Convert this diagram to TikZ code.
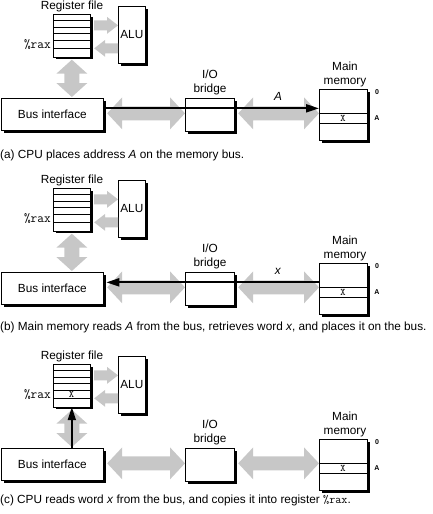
\documentclass[tikz,border=0pt]{standalone}
\usepackage{fontspec}
\setmainfont{Liberation Sans}
\usetikzlibrary{calc,shadows,arrows.meta}
\tikzset{
  fat/.style={fill=black!22},
  box/.style={draw, fill=white, line width=0.7pt, inner sep=0pt, anchor=north west,
    drop shadow={shadow xshift=2.6pt,shadow yshift=-2.6pt,opacity=1,fill=black}},
  lbl/.style={font=\fontsize{11.8}{14}\selectfont, inner sep=0pt, align=center},
  tiny/.style={font=\fontsize{7}{7}\selectfont\bfseries, inner sep=0pt},
  cell/.style={font=\fontsize{10}{10}\selectfont\ttfamily, inner sep=0pt},
  reglbl/.style={font=\fontsize{13}{13}\selectfont\ttfamily, inner sep=0pt, anchor=east},
  busline/.style={line width=2pt, -{Triangle[length=13pt,width=8pt]}},
  thinln/.style={line width=0.7pt},
  caption/.style={font=\fontsize{11.8}{14}\selectfont, inner sep=0pt, anchor=west}
}
% horizontal double fat arrow, tips at x of #1 and #2, at y of #1
\newcommand\dblH[2]{\fill[fat] let \p1=(#1), \p2=(#2) in
  (\x1,\y1) -- (\x1+15pt,\y1+16pt) -- (\x1+15pt,\y1+7pt) -- (\x2-15pt,\y1+7pt) -- (\x2-15pt,\y1+16pt)
  -- (\x2,\y1) -- (\x2-15pt,\y1-16pt) -- (\x2-15pt,\y1-7pt) -- (\x1+15pt,\y1-7pt) -- (\x1+15pt,\y1-16pt) -- cycle;}
% vertical double fat arrow, tips at y of #1 (top) and #2 (bottom), at x of #1
\newcommand\dblV[2]{\fill[fat] let \p1=(#1), \p2=(#2) in
  (\x1,\y1) -- (\x1+15.5pt,\y1-14pt) -- (\x1+7.5pt,\y1-14pt) -- (\x1+7.5pt,\y2+14pt) -- (\x1+15.5pt,\y2+14pt)
  -- (\x1,\y2) -- (\x1-15.5pt,\y2+14pt) -- (\x1-7.5pt,\y2+14pt) -- (\x1-7.5pt,\y1-14pt) -- (\x1-15.5pt,\y1-14pt) -- cycle;}
% single fat arrow pointing right: tail #1, tip x of #2
\newcommand\sglR[2]{\fill[fat] let \p1=(#1), \p2=(#2) in
  (\x1,\y1+5pt) -- (\x2-11pt,\y1+5pt) -- (\x2-11pt,\y1+8.5pt) -- (\x2,\y1)
  -- (\x2-11pt,\y1-8.5pt) -- (\x2-11pt,\y1-5pt) -- (\x1,\y1-5pt) -- cycle;}
% single fat arrow pointing left: tail #1, tip x of #2
\newcommand\sglL[2]{\fill[fat] let \p1=(#1), \p2=(#2) in
  (\x1,\y1+5pt) -- (\x2+11pt,\y1+5pt) -- (\x2+11pt,\y1+8.5pt) -- (\x2,\y1)
  -- (\x2+11pt,\y1-8.5pt) -- (\x2+11pt,\y1-5pt) -- (\x1,\y1-5pt) -- cycle;}
\newcommand\panel[2]{%
\begin{scope}[yshift=#1]
  \node[lbl] (rflbl#2) at (72,6) {Register file};
  \node[box, minimum width=37pt, minimum height=42.5pt] (rf#2) at (53,14) {};
  \draw[thinln] (53,20.5) -- (90,20.5);
  \draw[thinln] (53,27) -- (90,27);
  \draw[thinln] (53,33.5) -- (90,33.5);
  \draw[thinln] (53,40) -- (90,40);
  \draw[thinln] (53,48.5) -- (90,48.5);
  \node[reglbl] (rax#2) at (51,44.5) {\%rax};
  \node[box, lbl, minimum width=27pt, minimum height=57pt] (alu#2) at (118,6) {ALU};
  \node[box, lbl, minimum width=102pt, minimum height=32pt] (bus#2) at (1,98) {Bus interface};
  \node[box, minimum width=49pt, minimum height=33pt] (br#2) at (185,98) {};
  \node[lbl] (brlbl#2) at (210,82) {I/O\\bridge};
  \node[box, minimum width=48pt, minimum height=51pt] (mem#2) at (319,89) {};
  \draw[thinln] (319,113) -- (367,113);
  \draw[thinln] (319,123) -- (367,123);
  \node[cell] (memx#2) at (343,118.5) {X};
  \node[tiny] (zero#2) at (377,92) {0};
  \node[tiny] (addr#2) at (377,118.5) {A};
  \node[lbl] (memlbl#2) at (345,74) {Main\\memory};
  \path ([xshift=3.5pt,yshift=10.25pt]rf#2.east) coordinate (up#2);
  \path ([yshift=-13.5pt]alu#2.west) coordinate (dn#2);
  \path ([xshift=3.5pt]rf#2.east) coordinate (rfe#2);
  \path ([yshift=-2.5pt]rf#2.south) coordinate (rfs#2);
  \path ([yshift=1pt]bus#2.north) coordinate (busn#2);
  \path ([xshift=3.5pt,yshift=1pt]bus#2.east) coordinate (buse#2);
  \path ([xshift=3.5pt,yshift=1.5pt]br#2.east) coordinate (bre#2);
  \sglR{up#2}{alu#2.west}
  \sglL{dn#2}{rfe#2}
  \dblV{rfs#2}{busn#2}
  \dblH{buse#2}{br#2.west}
  \dblH{bre#2}{mem#2.west}
  \path ([xshift=2.6pt,yshift=6pt]bus#2.east) coordinate (la#2);
\end{scope}}
\begin{document}
\begin{tikzpicture}[x=1pt,y=-1pt]
\useasboundingbox (0,0) rectangle (432,514);
% panel (a)
\panel{0pt}{a}
\draw[busline] (laa) -- (laa -| mema.west);
\node[lbl] (lA) at (278,96) {\textit{A}};
\node[caption] (capa) at (0,155) {(a) CPU places address \textit{A} on the memory bus.};
% panel (b)
\panel{-174pt}{b}
\draw[busline] (lab -| memb.west) -- (lab);
\node[lbl] (lx) at (278,271) {\textit{x}};
\node[caption] (capb) at (0,327) {(b) Main memory reads \textit{A} from the bus, retrieves word \textit{x}, and places it on the bus.};
% panel (c)
\panel{-350pt}{c}
\draw[busline] (rfc.south |- busc.north) -- (rfc.south);
\node[cell] (rfx) at (71.5,394.5) {X};
\node[caption] (capc) at (0,500) {(c) CPU reads word \textit{x} from the bus, and copies it into register \texttt{\%rax}.};
\end{tikzpicture}
\end{document}
